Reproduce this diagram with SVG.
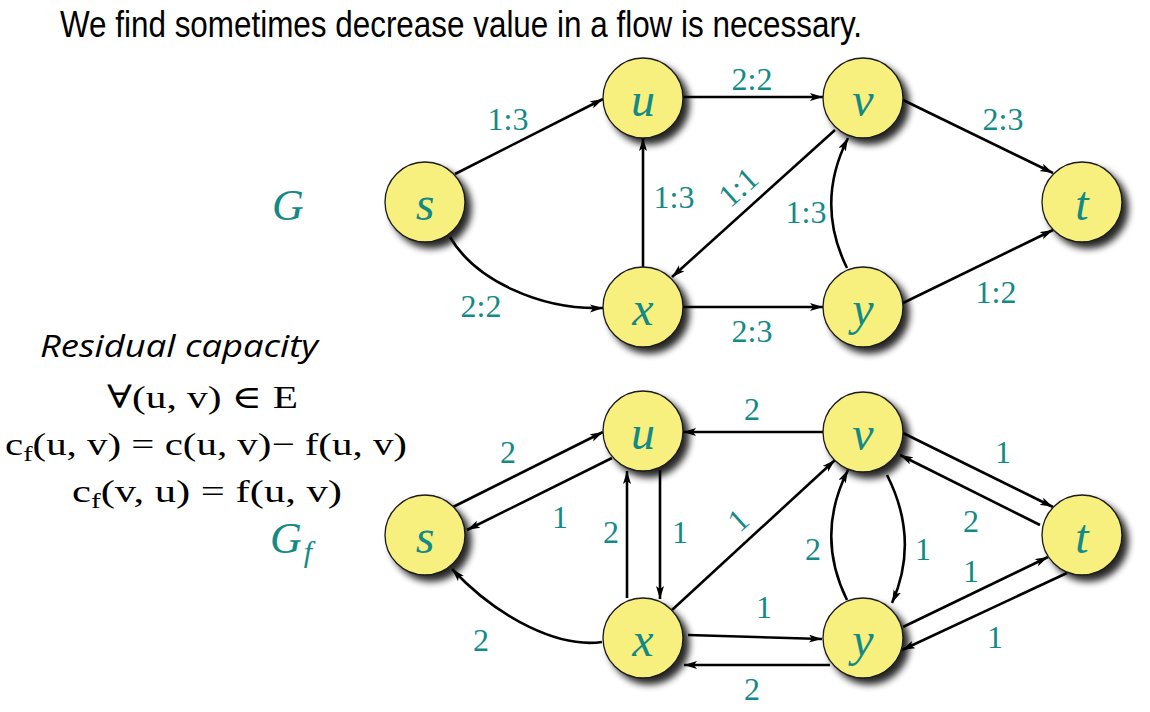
<svg xmlns="http://www.w3.org/2000/svg" width="1150" height="712" viewBox="0 0 1150 712">
<defs>
<filter id="sh" x="-30%" y="-30%" width="170%" height="170%">
<feGaussianBlur in="SourceAlpha" stdDeviation="3.5"/>
<feOffset dx="6" dy="6" result="b"/>
<feComponentTransfer in="b" result="c"><feFuncA type="linear" slope="0.85"/></feComponentTransfer>
<feMerge><feMergeNode in="c"/><feMergeNode in="SourceGraphic"/></feMerge>
</filter>
<marker id="ar" markerUnits="userSpaceOnUse" markerWidth="14" markerHeight="10" refX="13" refY="4" orient="auto">
<path d="M0,0 L13,4 L0,8 L3,4 z" fill="#000"/>
</marker>
</defs>
<style>
.n{fill:#F8F07E;stroke:#1a1a1a;stroke-width:1.3;filter:url(#sh)}
.nl{font-family:"Liberation Serif",serif;font-style:italic;font-size:48px;fill:#138A86;text-anchor:middle}
.e{fill:none;stroke:#000;stroke-width:2.6;marker-end:url(#ar)}
.l{font-family:"Liberation Serif",serif;font-size:32px;fill:#138A86;text-anchor:middle}
.m{font-family:"Liberation Serif","DejaVu Serif",serif;font-size:32px;fill:#000}
</style>
<rect width="1150" height="712" fill="#fff"/>
<text x="60" y="37" font-family="Liberation Sans,sans-serif" font-size="36" fill="#000" textLength="802" lengthAdjust="spacingAndGlyphs">We find sometimes decrease value in a flow is necessary.</text>
<text x="288" y="220" font-family="Liberation Serif,serif" font-style="italic" font-size="44" fill="#138A86" text-anchor="middle">G</text>
<text x="270" y="553" font-family="Liberation Serif,serif" font-style="italic" font-size="44" fill="#138A86">G<tspan font-size="30" dx="2" dy="9">f</tspan></text>
<text x="40" y="357" font-family="Open Sans,sans-serif" font-style="italic" font-size="31" fill="#000" textLength="278" lengthAdjust="spacingAndGlyphs">Residual capacity</text>
<text class="m" x="107" y="408" textLength="191" lengthAdjust="spacingAndGlyphs">∀(u, v) ∈ E</text>
<text class="m" x="5" y="455" textLength="402" lengthAdjust="spacingAndGlyphs">c<tspan font-size="22" dy="6">f</tspan><tspan dy="-6">(u, v) = c(u, v)− f(u, v)</tspan></text>
<text class="m" x="72" y="502" textLength="270" lengthAdjust="spacingAndGlyphs">c<tspan font-size="22" dy="6">f</tspan><tspan dy="-6">(v, u) = f(u, v)</tspan></text>
<g id="connectors">
<path class="e" d="M455,174 L603,99"/>
<path class="e" d="M683,97 L823,97"/>
<path class="e" d="M903,100 L1053,173"/>
<path class="e" d="M643,267 L643,138"/>
<path class="e" d="M835,130 L672,277"/>
<path class="e" d="M847,268 Q815,203 848,138"/>
<path class="e" d="M450,237 C475,280 540,310 603,308"/>
<path class="e" d="M683,307 L823,307"/>
<path class="e" d="M903,303 L1053,230"/>
<path class="e" d="M453,507 L603,432"/>
<path class="e" d="M612,458 L467,530"/>
<path class="e" d="M823,432 L683,432"/>
<path class="e" d="M627,598 L627,471"/>
<path class="e" d="M660,470 L660,599"/>
<path class="e" d="M672,610 L835,460"/>
<path class="e" d="M688,635 L822,639"/>
<path class="e" d="M830,665 L684,665"/>
<path class="e" d="M602,642 C560,648 500,620 452,569"/>
<path class="e" d="M847,600 Q815,535 848,470"/>
<path class="e" d="M887,475 Q920,540 892,603"/>
<path class="e" d="M903,433 L1053,507"/>
<path class="e" d="M1040,525 L900,455"/>
<path class="e" d="M903,627 L1048,557"/>
<path class="e" d="M1067,573 L902,650"/>
<g class="l">
<text x="508" y="130">1:3</text>
<text x="752" y="90">2:2</text>
<text x="1003" y="130">2:3</text>
<text x="674" y="208">1:3</text>
<text transform="translate(738,187) rotate(-42)" y="11">1:1</text>
<text x="806" y="223">1:3</text>
<text x="481" y="317">2:2</text>
<text x="752" y="342">2:3</text>
<text x="996" y="303">1:2</text>
<text x="508" y="463">2</text>
<text x="560" y="528">1</text>
<text x="752" y="420">2</text>
<text x="611" y="543">2</text>
<text x="680" y="543">1</text>
<text transform="translate(738,520) rotate(-42)" y="11">1</text>
<text x="764" y="618">1</text>
<text x="752" y="700">2</text>
<text x="481" y="651">2</text>
<text x="813" y="560">2</text>
<text x="923" y="560">1</text>
<text x="1003" y="463">1</text>
<text x="971" y="532">2</text>
<text x="971" y="582">1</text>
<text x="995" y="648">1</text>
</g>
</g>
<g id="G-s"><circle class="n" cx="425" cy="202" r="40"/><text class="nl" x="425" y="220">s</text></g>
<g id="G-u"><circle class="n" cx="643" cy="98" r="40"/><text class="nl" x="643" y="116">u</text></g>
<g id="G-v"><circle class="n" cx="863" cy="98" r="40"/><text class="nl" x="863" y="116">v</text></g>
<g id="G-x"><circle class="n" cx="643" cy="307" r="40"/><text class="nl" x="643" y="325">x</text></g>
<g id="G-y"><circle class="n" cx="863" cy="307" r="40"/><text class="nl" x="863" y="325">y</text></g>
<g id="G-t"><circle class="n" cx="1082" cy="202" r="40"/><text class="nl" x="1082" y="220">t</text></g>
<g id="Gf-s"><circle class="n" cx="425" cy="535" r="40"/><text class="nl" x="425" y="553">s</text></g>
<g id="Gf-u"><circle class="n" cx="643" cy="431" r="40"/><text class="nl" x="643" y="449">u</text></g>
<g id="Gf-v"><circle class="n" cx="863" cy="432" r="40"/><text class="nl" x="863" y="450">v</text></g>
<g id="Gf-x"><circle class="n" cx="643" cy="638" r="40"/><text class="nl" x="643" y="656">x</text></g>
<g id="Gf-y"><circle class="n" cx="863" cy="638" r="40"/><text class="nl" x="863" y="656">y</text></g>
<g id="Gf-t"><circle class="n" cx="1082" cy="535" r="40"/><text class="nl" x="1082" y="553">t</text></g>
</svg>
